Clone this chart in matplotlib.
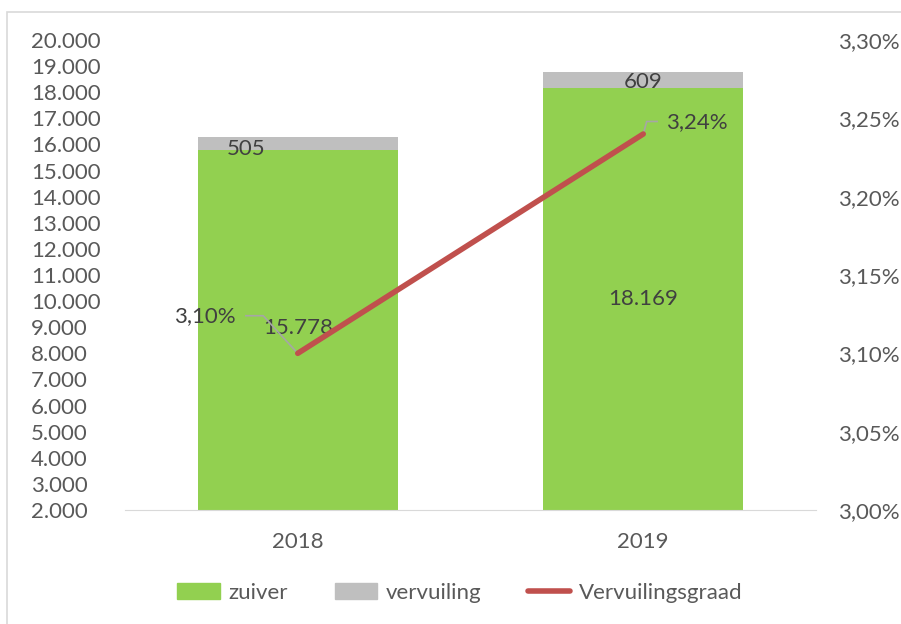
import matplotlib
matplotlib.use("Agg")
import matplotlib.pyplot as plt
from matplotlib.patches import Rectangle
from matplotlib.lines import Line2D
from matplotlib.ticker import FuncFormatter, MultipleLocator

plt.rcParams['font.family'] = ['Lato', 'DejaVu Sans']

years = ["2018", "2019"]
zuiver = [15778, 18169]
vervuiling = [505, 609]
graad = [3.10, 3.24]

GREEN = "#92D050"
GRAY = "#BFBFBF"
RED = "#C0504D"
TXT = "#595959"
LBL = "#404040"

fig = plt.figure(figsize=(9.01, 6.24), dpi=100)
W, H = 901, 624
ax = fig.add_axes([125 / W, 1 - 510 / H, (816 - 125) / W, (510 - 40) / H])
ax2 = ax.twinx()

x = list(range(len(years)))
bw = 0.58
ax.bar(x, zuiver, bw, color=GREEN, label="zuiver", zorder=2)
ax.bar(x, vervuiling, bw, bottom=zuiver, color=GRAY, label="vervuiling", zorder=2)
ax.set_xlim(-0.5, 1.5)
ax.set_ylim(2000, 20000)
ax.yaxis.set_major_locator(MultipleLocator(1000))
ax.yaxis.set_major_formatter(FuncFormatter(lambda v, p: f"{int(v):,}".replace(",", ".")))
ax.set_xticks(x)
ax.set_xticklabels(years)

ax2.plot(x, graad, color=RED, lw=4, solid_capstyle='round', zorder=5, label="Vervuilingsgraad")
ax2.set_ylim(3.00, 3.30)
ax2.yaxis.set_major_locator(MultipleLocator(0.05))
ax2.yaxis.set_major_formatter(FuncFormatter(lambda v, p: f"{v:.2f}%".replace(".", ",")))

TFS = 16
for a in (ax, ax2):
    for s in a.spines.values():
        s.set_visible(False)
    a.tick_params(length=0, labelsize=TFS, colors=TXT)
ax.spines['bottom'].set_visible(True)
ax.spines['bottom'].set_color("#D9D9D9")
ax.tick_params(axis='x', pad=16)
for t in ax.get_yticklabels():
    t.set_horizontalalignment('left')
ax.tick_params(axis='y', pad=94 * 0.72)
ax2.tick_params(axis='y', pad=22 * 0.72)

# data labels
fs = 16
ax.text(x[0], 2000 + (zuiver[0] - 2000) / 2 + 100, f"{zuiver[0]:,}".replace(",", "."), ha='center', va='center', fontsize=fs, color=LBL, zorder=6)
ax.text(x[1], 2000 + (zuiver[1] - 2000) / 2, f"{zuiver[1]:,}".replace(",", "."), ha='center', va='center', fontsize=fs, color=LBL, zorder=6)
ax.text(x[0] - 0.15, zuiver[0] + vervuiling[0] / 2 - 200, str(vervuiling[0]), ha='center', va='center', fontsize=fs, color=LBL, zorder=6)
ax.text(x[1], zuiver[1] + vervuiling[1] / 2 - 100, str(vervuiling[1]), ha='center', va='center', fontsize=fs, color=LBL, zorder=6)

# line labels with leader lines
ax2.plot([x[0], x[0] - 0.10, x[0] - 0.15], [graad[0], graad[0] + 0.024, graad[0] + 0.024], color="#A6A6A6", lw=1.2, zorder=4)
ax2.text(x[0] - 0.27, graad[0] + 0.0235, f"{graad[0]:.2f}%".replace(".", ","), ha='center', va='center', fontsize=fs, color=LBL, zorder=6)
ax2.plot([x[1], x[1] + 0.01, x[1] + 0.04], [graad[1], graad[1] + 0.008, graad[1] + 0.008], color="#A6A6A6", lw=1.2, zorder=4)
ax2.text(x[1] + 0.067, graad[1] + 0.0075, f"{graad[1]:.2f}%".replace(".", ","), ha='left', va='center', fontsize=fs, color=LBL, zorder=6)

# legend
handles = [Rectangle((0, 0), 1, 1, color=GREEN), Rectangle((0, 0), 1, 1, color=GRAY),
           Line2D([], [], color=RED, lw=4, solid_capstyle='round')]
leg = fig.legend(handles, ["zuiver", "vervuiling", "Vervuilingsgraad"], loc='center',
                 bbox_to_anchor=(460 / W, 1 - 593 / H), ncol=3, frameon=False, fontsize=TFS,
                 handlelength=1.9, handleheight=0.7, columnspacing=2.1, handletextpad=0.4)
for t in leg.get_texts():
    t.set_color(TXT)

# outer border
fig.add_artist(Rectangle((7 / W, -0.05), 1.1, 1 - 12 / H + 0.05, transform=fig.transFigure,
                         fill=False, edgecolor="#D9D9D9", lw=1.2))

fig.savefig("out.png", dpi=100)
